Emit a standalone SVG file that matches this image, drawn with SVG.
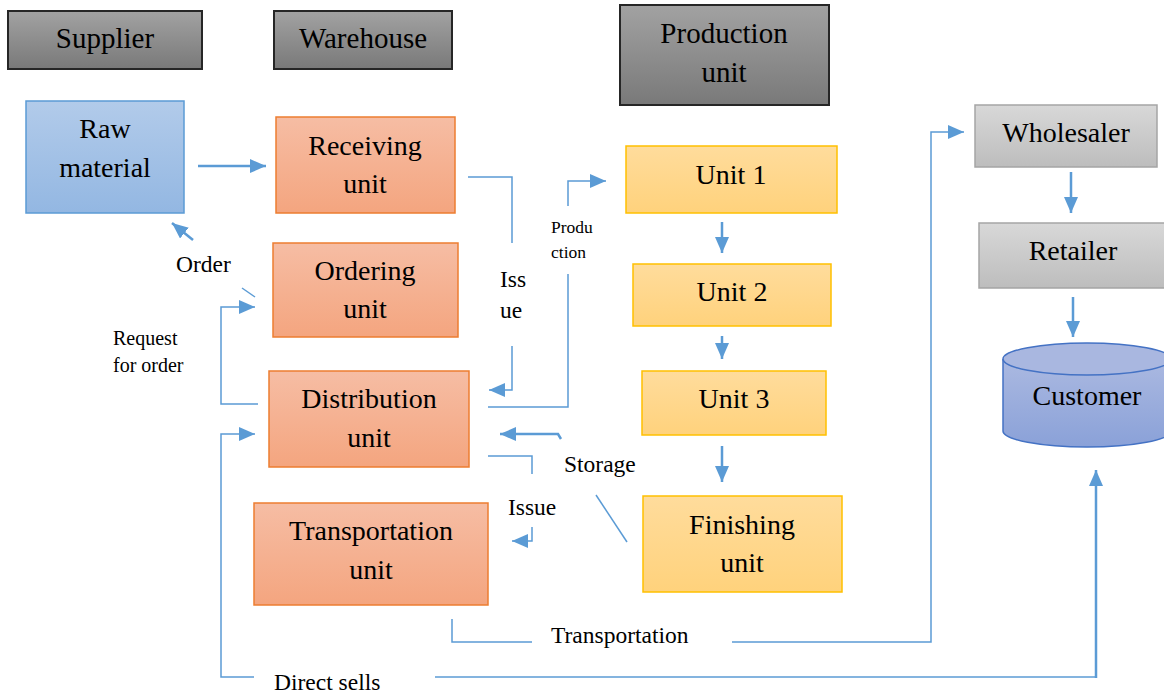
<svg xmlns="http://www.w3.org/2000/svg" width="1164" height="696" viewBox="0 0 1164 696">
<defs>
<linearGradient id="gDark" x1="0" y1="0" x2="0" y2="1"><stop offset="0" stop-color="#a2a2a2"/><stop offset="1" stop-color="#797979"/></linearGradient>
<linearGradient id="gBlue" x1="0" y1="0" x2="0" y2="1"><stop offset="0" stop-color="#b2cbea"/><stop offset="1" stop-color="#93b7e2"/></linearGradient>
<linearGradient id="gSalmon" x1="0" y1="0" x2="0" y2="1"><stop offset="0" stop-color="#f6bda4"/><stop offset="1" stop-color="#f4a57f"/></linearGradient>
<linearGradient id="gYellow" x1="0" y1="0" x2="0" y2="1"><stop offset="0" stop-color="#ffdc9c"/><stop offset="1" stop-color="#ffd27c"/></linearGradient>
<linearGradient id="gLight" x1="0" y1="0" x2="0" y2="1"><stop offset="0" stop-color="#d8d8d8"/><stop offset="1" stop-color="#bdbdbd"/></linearGradient>
<linearGradient id="gCyl" x1="0" y1="0" x2="0" y2="1"><stop offset="0" stop-color="#abb9e1"/><stop offset="1" stop-color="#8aa1d8"/></linearGradient>
<marker id="arr" markerUnits="userSpaceOnUse" markerWidth="17" markerHeight="15" refX="16" refY="7" orient="auto"><path d="M0,0 L16,7 L0,14 z" fill="#5b9bd5"/></marker>
</defs>
<style>
.t{font-family:"Liberation Serif","Times New Roman",serif;fill:#000;text-anchor:middle}
.n{font-size:28px}
.h{font-size:29px}
.s{font-size:23.5px;text-anchor:start}
.dark{fill:url(#gDark);stroke:#262626;stroke-width:2}
.blue{fill:url(#gBlue);stroke:#5b9bd5;stroke-width:1.5}
.sal{fill:url(#gSalmon);stroke:#ed7d31;stroke-width:1.5}
.yel{fill:url(#gYellow);stroke:#ffc000;stroke-width:1.5}
.lt{fill:url(#gLight);stroke:#a5a5a5;stroke-width:1.5}
.c{fill:none;stroke:#5b9bd5;stroke-width:1.5}
.ca{fill:none;stroke:#5b9bd5;stroke-width:1.5;marker-end:url(#arr)}
.cb{fill:none;stroke:#5b9bd5;stroke-width:2.5;marker-end:url(#arr)}
</style>

<g id="supplier"><rect class="dark" x="8" y="11" width="194" height="58"/><text class="t h" x="105" y="48">Supplier</text></g>
<g id="warehouse"><rect class="dark" x="274" y="11" width="178" height="58"/><text class="t h" x="363" y="48">Warehouse</text></g>
<g id="production-unit"><rect class="dark" x="620" y="5" width="209" height="100"/><text class="t h" x="724" y="43">Production</text><text class="t h" x="724" y="82">unit</text></g>

<g id="raw-material"><rect class="blue" x="26" y="101" width="158" height="112"/><text class="t n" x="105" y="138">Raw</text><text class="t n" x="105" y="177">material</text></g>

<g id="receiving-unit"><rect class="sal" x="276" y="117" width="179" height="96"/><text class="t n" x="365" y="155">Receiving</text><text class="t n" x="365" y="193">unit</text></g>
<g id="ordering-unit"><rect class="sal" x="273" y="243" width="185" height="94"/><text class="t n" x="365" y="280">Ordering</text><text class="t n" x="365" y="318">unit</text></g>
<g id="distribution-unit"><rect class="sal" x="269" y="371" width="200" height="96"/><text class="t n" x="369" y="408">Distribution</text><text class="t n" x="369" y="447">unit</text></g>
<g id="transportation-unit"><rect class="sal" x="254" y="503" width="234" height="102"/><text class="t n" x="371" y="540">Transportation</text><text class="t n" x="371" y="579">unit</text></g>

<g id="unit-1"><rect class="yel" x="626" y="146" width="211" height="67"/><text class="t n" x="731" y="184">Unit 1</text></g>
<g id="unit-2"><rect class="yel" x="633" y="264" width="198" height="62"/><text class="t n" x="732" y="301">Unit 2</text></g>
<g id="unit-3"><rect class="yel" x="642" y="371" width="184" height="64"/><text class="t n" x="734" y="408">Unit 3</text></g>
<g id="finishing-unit"><rect class="yel" x="643" y="496" width="199" height="96"/><text class="t n" x="742" y="534">Finishing</text><text class="t n" x="742" y="572">unit</text></g>

<g id="wholesaler"><rect class="lt" x="975" y="105" width="182" height="62"/><text class="t n" x="1066" y="142">Wholesaler</text></g>
<g id="retailer"><rect class="lt" x="979" y="223" width="190" height="65"/><text class="t n" x="1073" y="260">Retailer</text></g>
<g id="customer">
<path d="M1003,359 L1003,431 A84,16 0 0 0 1171,431 L1171,359" fill="url(#gCyl)" stroke="#4472c4" stroke-width="1.5"/>
<ellipse cx="1087" cy="359" rx="84" ry="16" fill="#a9b7e0" stroke="#4472c4" stroke-width="1.5"/>
<text class="t n" x="1087" y="405">Customer</text>
</g>

<g id="connectors">
<line class="cb" x1="198" y1="166" x2="266" y2="166"/>
<line class="cb" x1="193" y1="240" x2="172" y2="223"/>
<line class="c" x1="255" y1="297" x2="242" y2="288"/>
<polyline class="ca" points="258,404 221,404 221,307 255,307"/>
<polyline class="c" points="468,177 512,177 512,243"/>
<polyline class="ca" points="512,346 512,390 489,390"/>
<polyline class="c" points="488,407 568,407 568,274"/>
<polyline class="ca" points="568,206 568,181 606,181"/>
<line class="cb" x1="722" y1="222" x2="722" y2="253"/>
<line class="cb" x1="722" y1="336" x2="722" y2="359"/>
<line class="cb" x1="722" y1="446" x2="722" y2="482"/>
<line class="c" x1="627" y1="542" x2="596" y2="495" stroke-width="1.2"/>
<polyline class="cb" points="561,439 558,434 500,434"/>
<polyline class="c" points="488,456 532,456 532,474"/>
<polyline class="ca" points="532,527 532,541 512,541"/>
<polyline class="c" points="452,619 452,642 532,642"/>
<polyline class="ca" points="732,642 931,642 931,132 964,132"/>
<polyline class="ca" points="254,677 221,677 221,434 255,434"/>
<polyline class="c" points="435,677 1096,677"/>
<line class="cb" x1="1096" y1="678" x2="1096" y2="470"/>
<line class="cb" x1="1071" y1="172" x2="1071" y2="213"/>
<line class="cb" x1="1073" y1="297" x2="1073" y2="337"/>
</g>

<g id="labels">
<text class="t s" x="176" y="272">Order</text>
<text class="t" x="113" y="345" style="font-size:20px;text-anchor:start">Request</text>
<text class="t" x="113" y="372" style="font-size:20px;text-anchor:start">for order</text>
<text class="t s" x="500" y="287">Iss</text>
<text class="t s" x="500" y="318">ue</text>
<text class="t" x="551" y="233" style="font-size:17.5px;text-anchor:start">Produ</text>
<text class="t" x="551" y="258" style="font-size:17.5px;text-anchor:start">ction</text>
<text class="t s" x="564" y="472">Storage</text>
<text class="t s" x="508" y="515">Issue</text>
<text class="t s" x="551" y="643">Transportation</text>
<text class="t s" x="274" y="690">Direct sells</text>
</g>
</svg>
